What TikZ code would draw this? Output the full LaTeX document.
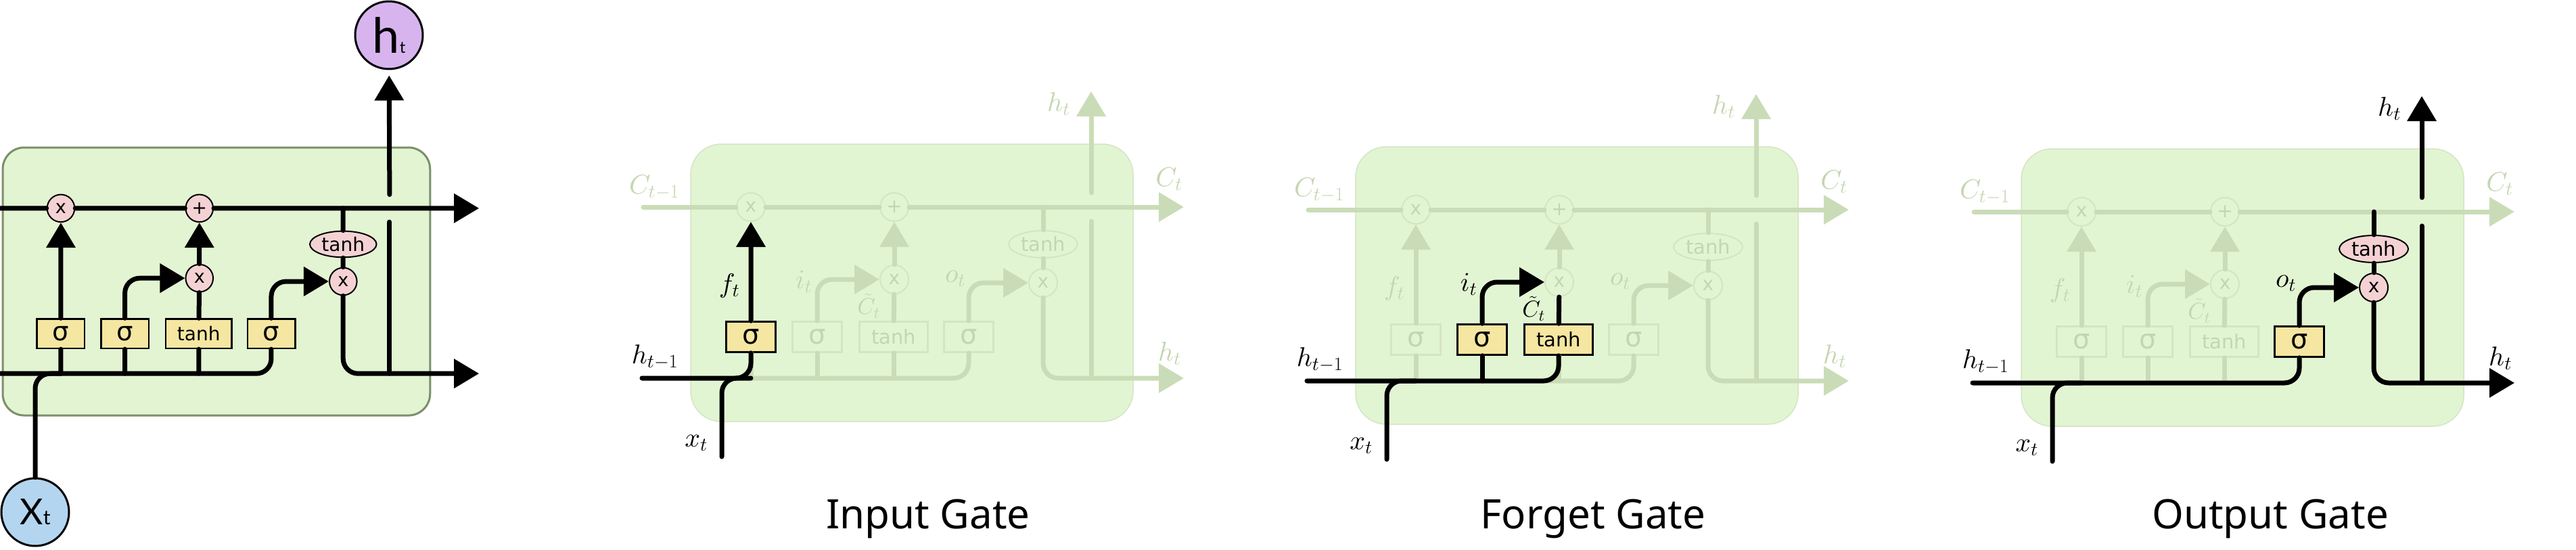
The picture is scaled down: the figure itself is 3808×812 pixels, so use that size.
\documentclass[tikz,border=0pt]{standalone}
\usepackage{fix-cm}
\usepackage{fontspec}
\usepackage{amsmath}
\usepackage{tikz}
\usetikzlibrary{arrows.meta,positioning,shapes.geometric}
\DeclareFontShape{OML}{cmm}{m}{it}{<->cmmi10}{}
\DeclareFontShape{OMS}{cmsy}{m}{n}{<->cmsy10}{}
\newfontfamily\gatefont{DejaVu Sans}
\newfontfamily\bubblefont{Lato}
\newfontfamily\titlefont{Noto Sans}
\definecolor{cellfill}{HTML}{E2F4D2}
\definecolor{celledge}{HTML}{7B9069}
\definecolor{gatefill}{HTML}{F5E6A1}
\definecolor{opfill}{HTML}{F4D2D4}
\definecolor{htfill}{HTML}{D7B4EE}
\definecolor{xtfill}{HTML}{B4D5F0}
\definecolor{ghostcell}{HTML}{E2F5D3}
\definecolor{ghostline}{HTML}{CADCB7}
\definecolor{ghostedge}{HTML}{D3E5C2}
\definecolor{ghosttext}{HTML}{C4D6B1}
\newcommand{\sig}{{\fontsize{40}{40}\selectfont σ}}
\tikzset{cellbox/.style={draw=celledge,fill=cellfill,line width=3pt,rounded corners=32pt,minimum width=654pt,minimum height=410pt,inner sep=0pt},
wire/.style={draw=black,line width=7pt,line cap=round,rounded corners=22pt},
arr/.style={-{Triangle[length=37pt,width=42pt]}},
gate/.style={draw=black,fill=gatefill,line width=2.5pt,minimum width=73pt,minimum height=45pt,inner sep=0pt,font=\gatefont\fontsize{29}{30}\selectfont},
op/.style={circle,draw=black,fill=opfill,line width=2pt,minimum size=42pt,inner sep=0pt,font=\gatefont\fontsize{28}{30}\selectfont},
act/.style={ellipse,draw=black,fill=opfill,line width=2pt,minimum width=102pt,minimum height=40pt,inner sep=0pt,font=\gatefont\fontsize{29}{30}\selectfont},
bubble/.style={circle,draw=black,line width=3pt,minimum size=100pt,inner sep=0pt,font=\bubblefont},
note/.style={text=ghosttext,inner sep=0pt,font=\fontsize{40}{40}\selectfont},
gatetitle/.style={font=\titlefont\fontsize{60}{60}\selectfont},
ink/.style={text=black},
litgate/.style={draw=black,fill=gatefill,text=black},
litop/.style={draw=black,fill=opfill,text=black},
faded/.style={cellbox/.append style={draw=ghostedge,fill=ghostcell,line width=1.5pt,rounded corners=45pt},wire/.append style={draw=ghostline},gate/.append style={draw=ghostedge,fill=ghostcell,text=ghosttext},op/.append style={draw=ghostedge,fill=ghostcell,text=ghosttext},act/.append style={draw=ghostedge,fill=ghostcell,text=ghosttext}},
forgetgate/.style={},inputgate/.style={},candgate/.style={},outputgate/.style={},outtanh/.style={},outmul/.style={},
fnote/.style={},inote/.style={},cnote/.style={},onote/.style={},hnote/.style={},
lstm/.pic={
\node[cellbox] (-box) at (327,205) {};
\node[op] (-fx) at (89,93) {x};
\node[op] (-add) at (301,93) {+};
\node[op] (-ix) at (301,200) {x};
\node[op,outmul] (-ox) at (521,205) {x};
\node[act,outtanh] (-th) at (521,148) {tanh};
\node[gate,forgetgate] (-sf) at (89,285) {\sig};
\node[gate,inputgate] (-si) at (187,285) {\sig};
\node[gate,candgate,minimum width=101pt] (-sc) at (300,285) {tanh};
\node[gate,outputgate] (-so) at (411,285) {\sig};
\coordinate (-cin) at (-70,93);
\coordinate (-cout) at (729,93);
\coordinate (-hin) at (-72,346);
\coordinate (-hout) at (729,346);
\coordinate (-hlo) at (592,346);
\coordinate (-hmid) at (592,114);
\coordinate (-hgap) at (592,72);
\coordinate (-hup) at (592,-78);
\coordinate (-xin) at (46,462);
\draw[wire,arr] (-cin) -- (-fx) -- (-add) -- (-cout);
\draw[wire] (-th |- -cin) -- (-th) -- (-ox);
\draw[wire,arr] (-ox) |- (-hout);
\draw[wire] (-hlo) -- (-hmid);
\draw[wire] (-hin) -| (-so);
\draw[wire] (-sf) -- (-sf |- -hin);
\draw[wire] (-si) -- (-si |- -hin);
\draw[wire] (-sc) -- (-sc |- -hin);
\draw[wire,arr] (-sf) -- (-fx);
\draw[wire,arr] (-si) |- (-ix);
\draw[wire] (-sc) -- (-ix);
\draw[wire,arr] (-ix) -- (-add);
\draw[wire,arr] (-so) |- (-ox);
},
lstmnotes/.pic={
\node[note] (-cprev) at (-54,64) {$C_{t-1}$};
\node[note] (-cnext) at (707,52) {$C_t$};
\node[note,hnote] (-hnext) at (708,310) {$h_t$};
\node[note,hnote] (-htop) at (544,-59) {$h_t$};
\node[note,ink] (-hprev) at (-53,315) {$h_{t-1}$};
\node[note,ink] (-xnow) at (8,442) {$x_t$};
\node[note,fnote] (-fnow) at (57,209) {$f_t$};
\node[note,inote] (-inow) at (167,203) {$i_t$};
\node[note,cnote,font=\fontsize{34}{34}\selectfont] (-cnew) at (263,239) {$\tilde{C}_t$};
\node[note,onote] (-onow) at (391,199) {$o_t$};
}}
\begin{document}
\begin{tikzpicture}[x=1pt,y=-1pt]
\useasboundingbox (0,0) rectangle (3808,812);
\pic[scale=0.966,transform shape] (p1) at (4,218) {lstm};
\node[bubble,fill=htfill,font=\bubblefont\fontsize{72}{72}\selectfont] (ht) at (575,52) {h{\fontsize{24}{24}\selectfont t}};
\node[bubble,fill=xtfill,font=\bubblefont\fontsize{53}{53}\selectfont] (xt) at (52,757) {X{\fontsize{30}{30}\selectfont t}};
\draw[wire] (xt) |- (p1-sf |- p1-hin);
\draw[wire,arr,shorten >=8pt] (p1-hgap) -- (ht);
\pic[faded,forgetgate/.style=litgate] (p2) at (1021,213) {lstm};
\pic[fnote/.style=ink] (p2) at (1021,213) {lstmnotes};
\draw[faded,wire,arr] (p2-hgap) -- (p2-hup);
\draw[wire] (p2-xin) |- (p2-sf |- p2-hin);
\draw[wire,arr] (p2-hin) -| (p2-sf) -- (p2-fx);
\pic[faded,inputgate/.style=litgate,candgate/.style=litgate] (p3) at (2004,217) {lstm};
\pic[inote/.style=ink,cnote/.style=ink] (p3) at (2004,217) {lstmnotes};
\draw[faded,wire,arr] (p3-hgap) -- (p3-hup);
\draw[wire] (p3-xin) |- (p3-sf |- p3-hin);
\draw[wire] (p3-hin) -| (p3-sc);
\draw[wire] (p3-si) -- (p3-si |- p3-hin);
\draw[wire,arr] (p3-si) |- (p3-ix);
\draw[wire] (p3-sc) -- (p3-ix);
\pic[faded,outputgate/.style=litgate,outtanh/.style=litop,outmul/.style=litop] (p4) at (2988,220) {lstm};
\pic[onote/.style=ink,hnote/.style=ink] (p4) at (2988,220) {lstmnotes};
\draw[wire] (p4-xin) |- (p4-sf |- p4-hin);
\draw[wire] (p4-hin) -| (p4-so);
\draw[wire,arr] (p4-so) |- (p4-ox);
\draw[wire] (p4-th |- p4-cin) -- (p4-th) -- (p4-ox);
\draw[wire,arr] (p4-ox) |- (p4-hout);
\draw[wire] (p4-hlo) -- (p4-hmid);
\draw[wire,arr] (p4-hgap) -- (p4-hup);
\node[gatetitle] (tin) at (1372,767) {Input Gate};
\node[gatetitle] (tforget) at (2355,767) {Forget Gate};
\node[gatetitle] (tout) at (3356,767) {Output Gate};
\end{tikzpicture}
\end{document}
